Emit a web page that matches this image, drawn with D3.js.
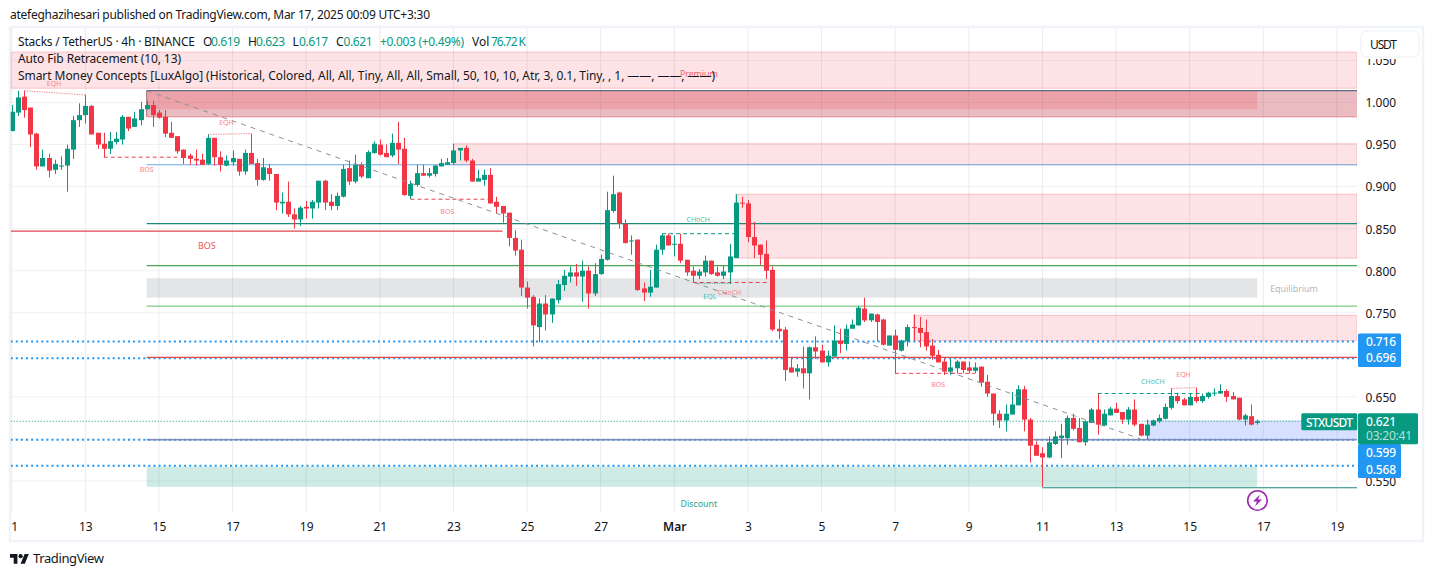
<!DOCTYPE html>
<html><head><meta charset="utf-8">
<style>html,body{margin:0;padding:0;background:#fff}svg{display:block}text{font-family:"Noto Sans",sans-serif}</style>
<script src="https://cdn.jsdelivr.net/npm/d3@7"></script></head><body><div id="c"></div>
<script>
// ---- candle data (price, USDT) ----
const opens=[.966,.988,1.007,.994,.963,.924,.934,.920,.924,.925,.944,.979,.985,.996,.964,.951,.945,.953,.956,.983,.971,.979,.992,.997,.988,.983,.964,.960,.944,.937,.933,.932,.927,.958,.935,.925,.929,.933,.918,.940,.928,.908,.922,.915,.880,.882,.867,.861,.876,.874,.881,.907,.882,.877,.888,.922,.906,.926,.910,.940,.950,.940,.937,.952,.945,.889,.902,.916,.913,.915,.924,.926,.928,.943,.946,.931,.906,.908,.914,.882,.877,.869,.839,.825,.780,.769,.733,.761,.748,.765,.783,.793,.798,.793,.800,.773,.796,.813,.871,.893,.856,.835,.837,.779,.774,.780,.825,.842,.831,.832,.813,.800,.794,.798,.812,.798,.794,.798,.815,.881,.880,.840,.831,.820,.801,.731,.730,.685,.680,.684,.678,.709,.705,.691,.698,.717,.713,.731,.735,.755,.741,.748,.742,.711,.723,.705,.716,.733,.732,.727,.711,.700,.692,.680,.684,.692,.685,.681,.686,.668,.654,.630,.622,.629,.640,.659,.623,.593,.583,.578,.594,.601,.601,.625,.613,.596,.619,.635,.616,.628,.636,.632,.623,.635,.618,.604,.616,.621,.624,.637,.651,.647,.640,.650,.645,.650,.654,.654,.657,.651,.649,.623,.627,.619];
const highs=[.997,1.014,1.014,.994,.964,.944,.939,.932,.936,.950,.984,.999,1.009,.997,.964,.964,.965,.965,.985,.983,.989,1.001,1.002,1.002,.991,.991,.977,.960,.944,.939,.944,.939,.962,.958,.942,.937,.943,.933,.944,.963,.933,.934,.927,.915,.893,.906,.874,.877,.883,.884,.907,.908,.891,.893,.926,.931,.938,.929,.943,.954,.956,.950,.963,.977,.958,.907,.926,.926,.922,.926,.933,.934,.951,.946,.949,.933,.920,.920,.922,.888,.877,.869,.848,.837,.787,.771,.767,.771,.767,.789,.801,.805,.808,.812,.805,.809,.819,.894,.913,.894,.861,.842,.837,.786,.801,.831,.844,.844,.842,.844,.813,.805,.802,.818,.812,.805,.806,.832,.891,.888,.884,.858,.831,.836,.805,.742,.733,.697,.689,.710,.710,.722,.712,.705,.735,.731,.736,.742,.758,.768,.749,.749,.743,.723,.730,.718,.736,.748,.745,.742,.719,.706,.695,.695,.694,.692,.692,.691,.686,.676,.654,.634,.641,.656,.664,.663,.625,.597,.590,.603,.609,.618,.628,.630,.625,.622,.637,.654,.635,.638,.643,.632,.638,.647,.618,.623,.623,.629,.642,.660,.655,.649,.654,.661,.654,.656,.660,.665,.659,.656,.649,.630,.641,.623];
const lows=[.966,.984,.982,.947,.920,.924,.911,.915,.920,.894,.933,.971,.975,.962,.945,.935,.939,.950,.950,.966,.971,.973,.992,.971,.981,.959,.958,.939,.927,.926,.925,.926,.926,.925,.918,.924,.925,.913,.914,.927,.901,.907,.907,.872,.868,.864,.850,.853,.862,.862,.874,.872,.872,.872,.887,.902,.904,.910,.910,.939,.937,.935,.935,.927,.889,.885,.900,.913,.911,.912,.924,.926,.926,.931,.929,.906,.906,.901,.880,.868,.857,.829,.818,.770,.755,.710,.715,.729,.738,.761,.776,.786,.782,.763,.755,.770,.795,.812,.869,.850,.832,.819,.776,.764,.769,.780,.819,.830,.817,.809,.794,.786,.790,.793,.795,.793,.790,.784,.815,.875,.834,.815,.807,.790,.728,.719,.669,.679,.674,.660,.647,.695,.691,.686,.698,.702,.705,.731,.735,.739,.739,.716,.711,.711,.678,.704,.710,.717,.709,.705,.694,.691,.676,.676,.678,.678,.678,.678,.662,.650,.616,.613,.609,.629,.640,.609,.572,.580,.543,.577,.593,.577,.593,.610,.596,.592,.619,.605,.616,.628,.631,.618,.617,.615,.603,.599,.615,.619,.623,.635,.642,.640,.640,.643,.643,.648,.651,.654,.644,.647,.622,.616,.616,.617];
const closes=[.989,1.006,.991,.962,.924,.934,.919,.927,.925,.945,.979,.985,.996,.962,.950,.945,.954,.957,.983,.969,.981,.992,.997,.985,.982,.963,.958,.942,.934,.933,.931,.926,.958,.935,.926,.931,.934,.918,.940,.927,.908,.923,.915,.881,.882,.867,.861,.875,.874,.882,.907,.881,.877,.889,.921,.906,.926,.912,.941,.951,.938,.935,.952,.944,.890,.903,.916,.913,.916,.925,.928,.929,.943,.946,.931,.906,.910,.914,.880,.876,.868,.839,.824,.780,.768,.735,.761,.748,.767,.784,.794,.798,.793,.800,.773,.796,.814,.872,.891,.856,.833,.836,.777,.774,.781,.825,.842,.830,.832,.812,.798,.794,.799,.812,.796,.794,.799,.817,.881,.880,.840,.830,.819,.800,.730,.728,.682,.679,.684,.678,.709,.704,.691,.699,.717,.713,.731,.736,.756,.741,.749,.739,.712,.723,.706,.717,.733,.732,.726,.710,.699,.691,.680,.685,.692,.682,.681,.685,.667,.654,.630,.622,.630,.641,.659,.623,.592,.580,.578,.596,.603,.604,.625,.612,.596,.621,.635,.617,.630,.636,.631,.623,.635,.617,.604,.617,.622,.625,.638,.651,.645,.640,.650,.645,.651,.655,.655,.657,.650,.647,.623,.628,.617,.621];

// ---- axes ----
const priceTicks=[1.05,1,.95,.9,.85,.8,.75,.65,.55];
const gridPrices=[1.05,1,.95,.9,.85,.8,.75,.7,.65,.6,.55];
const timeTickIndex=[0,12,24,36,48,60,72,84,96,108,120,132,144,156,168,180,192,204,216];
const timeTickLabels=["1","13","15","17","19","21","23","25","27","Mar","3","5","7","9","11","13","15","17","19"];

// ---- indicator zones: [fromIndex, toIndex (null = right edge), top price, bottom price] ----
const premiumZone=[null,null,1.060,1.017];
const supplyZoneOuter=[22,null,1.014,.983];
const supplyZoneInner=[22,203,1.014,.992];
const supplyZones=[[72,null,.951,.926],[118,null,.891,.815],[147,null,.747,.717]];
const equilibriumZone=[22,203,.791,.768];
const demandZone=[185,null,.622,.599];
const discountZone=[22,203,.567,.543];

// ---- level lines: [fromIndex, toIndex, price] ----
const tealLevels=[[22,null,.856],[168,null,.542]];
const redLevels=[[null,80,.847],[22,null,.697]];
const blueLevels=[[22,null,.926]];
const greenLevels=[[22,null,.806]];
const lightGreenLevels=[[22,null,.758]];
const slateLevels=[[22,null,.599]];
const dottedPrices=[.716,.696,.599,.568];
const lastPrice=.621;

// ---- market structure dashes: [i1,p1,i2,p2] ----
const fibTrend=[22,1.014,184,.600];
const bosDashes=[[15,.935,27,.935],[65,.885,78,.885],[111,.786,124,.786],[144,.678,157,.678]];
const chochDashes=[[106,.844,118,.844],[177,.654,194,.654]];
const eqhDots=[[2,1.014,12,1.009],[32,.962,39,.963],[189,.660,193,.661]];
const eqlDots=[[112,.785,117,.785]];

// ---- labels: [text, index, price] ----
const redSmall=[["EQH",6.9,1.022],["EQH",35,.976],["BOS",22,.920],["BOS",71,.870],["CHoCH",117,.773],["BOS",151,.664],["EQH",191,.676]];
const greenSmall=[["CHoCH",111.9,.860],["EQL",113.8,.769],["CHoCH",186,.667]];
const bigBos=["BOS",31.8,.829];
const premiumLabel=["Premium",112,1.033];
const equilibriumLabel=["Equilibrium",209,.778];
const discountLabel=["Discount",112,.522];
const tagPrices=[.716,.696,.599,.568];
const tagTextY=[341.5,358,452.5,470];

const W=1433,H=576;
const up="#089981",down="#f23645",left=10.7,right=1357;
const x=d3.scaleLinear().domain([0,216]).range([11.7,1336.9]);
const y=d3.scaleLinear().domain([1,.55]).range([102.5,481]);

const svg=d3.select("#c").append("svg").attr("width",W).attr("height",H);
// frame
svg.append("rect").attr("x",10).attr("y",27).attr("width",1413).attr("height",514).attr("fill","#fff").attr("stroke","#f0f3fa").attr("stroke-width",2.5);
svg.append("defs").append("clipPath").attr("id","pane").append("rect").attr("x",left).attr("y",28).attr("width",right-left).attr("height",485);
const g=svg.append("g").attr("clip-path","url(#pane)");

// grid
g.selectAll(".gh").data(gridPrices).join("line").attr("x1",left).attr("x2",right).attr("y1",d=>y(d)).attr("y2",d=>y(d)).attr("stroke","#f0f1f3");
g.selectAll(".gv").data(timeTickIndex).join("line").attr("x1",d=>x(d)).attr("x2",d=>x(d)).attr("y1",28).attr("y2",513).attr("stroke","#eaecef");

function zone(z,fill,op,stroke){
  const x0=z[0]==null?left:x(z[0]),x1=z[1]==null?right:x(z[1]);
  g.append("rect").attr("x",x0).attr("width",x1-x0).attr("y",y(z[2])).attr("height",y(z[3])-y(z[2])).attr("fill",fill).attr("fill-opacity",op).attr("stroke",stroke||"none").attr("stroke-opacity",.25);
}
zone(premiumZone,down,.14,down);
supplyZones.forEach(z=>zone(z,down,.14,down));
zone(supplyZoneOuter,"#c03040",.33);
zone(supplyZoneInner,down,.18);
zone(equilibriumZone,"#787b86",.2);
zone(demandZone,"#2962ff",.19);
zone(discountZone,up,.2);
// zone outlines of the big supply block
const sbx=x(supplyZoneOuter[0]);
g.append("line").attr("x1",sbx).attr("x2",sbx).attr("y1",y(supplyZoneOuter[2])).attr("y2",y(supplyZoneOuter[3])).attr("stroke","#a0707a");
g.append("line").attr("x1",sbx).attr("x2",right).attr("y1",y(supplyZoneOuter[3])).attr("y2",y(supplyZoneOuter[3])).attr("stroke","#e8868e");
g.append("line").attr("x1",sbx).attr("x2",right).attr("y1",y(supplyZoneOuter[2])).attr("y2",y(supplyZoneOuter[2])).attr("stroke","#5d6b80").attr("stroke-width",1.3);

// dotted levels and last price
g.selectAll(".dl").data(dottedPrices).join("line").attr("x1",left).attr("x2",right).attr("y1",d=>y(d)).attr("y2",d=>y(d)).attr("stroke","#2196f3").attr("stroke-width",2).attr("stroke-dasharray","2 3.1");
g.append("line").attr("x1",left).attr("x2",right).attr("y1",y(lastPrice)).attr("y2",y(lastPrice)).attr("stroke",up).attr("stroke-width",1).attr("stroke-dasharray","1 2");

function levels(arr,color,w){
  arr.forEach(l=>g.append("line").attr("x1",l[0]==null?left:x(l[0])).attr("x2",l[1]==null?right:x(l[1])).attr("y1",y(l[2])).attr("y2",y(l[2])).attr("stroke",color).attr("stroke-width",w||1.2));
}
levels(tealLevels,"#1b8a78");levels(redLevels,"#e0464f");levels(blueLevels,"#6aa9e0");levels(greenLevels,"#4fa552");levels(lightGreenLevels,"#7ecb85");levels(slateLevels,"#7d8db8",1.4);

// candles
const idx=d3.range(opens.length);
const col=i=>closes[i]>=opens[i]?up:down;
g.selectAll(".w").data(idx).join("line").attr("x1",i=>Math.round(x(i))+.5).attr("x2",i=>Math.round(x(i))+.5).attr("y1",i=>y(highs[i])).attr("y2",i=>y(lows[i])).attr("stroke",col).attr("stroke-width",1);
g.selectAll(".b").data(idx).join("rect").attr("x",i=>Math.round(x(i))-2).attr("width",5)
 .attr("y",i=>y(Math.max(opens[i],closes[i]))).attr("height",i=>Math.max(1,Math.abs(y(opens[i])-y(closes[i])))).attr("fill",col);

// structure
function seg(d,color,dash,w,op){
  g.append("line").attr("x1",x(d[0])).attr("y1",y(d[1])).attr("x2",x(d[2])).attr("y2",y(d[3])).attr("stroke",color).attr("stroke-width",w).attr("stroke-dasharray",dash).attr("opacity",op||1);
}
seg(fibTrend,"#8a8f98","5 5",1);
bosDashes.forEach(d=>seg(d,"#e8414d","4 3",1));
chochDashes.forEach(d=>seg(d,"#0a9a82","4 3",1));
eqhDots.forEach(d=>seg(d,down,"1.5 1",1,.55));
eqlDots.forEach(d=>seg(d,up,"1.5 1",1,.6));

function lbl(l,fill,size){
  g.append("text").attr("x",x(l[1])).attr("y",y(l[2])).attr("text-anchor","middle").attr("dominant-baseline","middle").attr("fill",fill).attr("font-size",size).text(l[0]);
}
redSmall.forEach(l=>lbl(l,"#f5838c",7));
greenSmall.forEach(l=>lbl(l,"#4fbca9",7));
lbl(bigBos,"#f0535f",9);
lbl(premiumLabel,"#f0606b",8.8);
lbl(equilibriumLabel,"#b2b5bc",8.8);
lbl(discountLabel,"#25a58d",8.8);

// price axis
const ya=svg.append("g").attr("transform",`translate(${right+8.5},0.5)`).call(d3.axisRight(y).tickValues(priceTicks).tickFormat(d3.format(".3f")).tickSize(0).tickPadding(0));
ya.select(".domain").remove();
ya.selectAll("text").attr("font-size",12).attr("fill","#131722").attr("font-family","Noto Sans");
// time axis
const labelOf=new Map(timeTickIndex.map((t,i)=>[t,timeTickLabels[i]]));
const xa=svg.append("g").attr("transform","translate(0,522.5)").call(d3.axisBottom(x).tickValues(timeTickIndex).tickFormat(d=>labelOf.get(d)).tickSize(0).tickPadding(0));
xa.select(".domain").remove();
xa.selectAll("text").attr("font-size",12).attr("fill","#131722").attr("font-family","Noto Sans");
xa.select(".tick text").attr("dx",2.5);
xa.selectAll("text").filter(function(){return this.textContent==="Mar"}).attr("font-weight",600);

function T(px,py,s,o){o=o||{};const t=svg.append("text").attr("x",px).attr("y",py).attr("fill",o.fill||"#131722").attr("font-size",o.size||12).attr("text-anchor",o.anchor||"start").text(s);
 if(o.len){t.attr("textLength",o.len).attr("lengthAdjust","spacing");}if(o.op)t.attr("opacity",o.op);if(o.weight)t.attr("font-weight",o.weight);return t;}

// header & legend
T(10,19,"atefeghazihesari published on TradingView.com, Mar 17, 2025 00:09 UTC+3:30",{len:420});
T(18,46,"Stacks / TetherUS · 4h · BINANCE",{len:177});
[["O",203,"0.619",211],["H",248,"0.623",256],["L",292.5,"0.617",299],["C",336,"0.621",343.5]].forEach(a=>{T(a[1],46,a[0]);T(a[3],46,a[2],{fill:up,len:29});});
T(380,46,"+0.003 (+0.49%)",{fill:up,len:84});
T(472,46,"Vol");T(491,46,"76.72 K",{fill:up,len:35});
T(18,63,"Auto Fib Retracement (10, 13)",{len:163});
T(18,80,"Smart Money Concepts [LuxAlgo] (Historical, Colored, All, All, Tiny, All, All, Small, 50, 10, 10, Atr, 3, 0.1, Tiny, , 1, ——, ——, ——)",{len:697});

// USDT button (covers the top of the 1.050 tick label)
svg.append("rect").attr("x",1359).attr("y",28).attr("width",62).attr("height",31).attr("fill","#fff");
svg.append("rect").attr("x",1361).attr("y",31).attr("width",58).attr("height",26).attr("rx",5).attr("fill","#fff").attr("stroke","#f0f1f3").attr("stroke-width",1.2);
T(1370,49,"USDT",{len:27});

// price tags
function tag(x0,y0,w,h,fill){svg.append("rect").attr("x",x0).attr("y",y0).attr("width",w).attr("height",h).attr("fill",fill).attr("rx",1.5);}
tag(1358,333.5,43,33.5,"#2196f3");tag(1358,444,43,34,"#2196f3");
tag(1358,413.3,60,31,up);tag(1301.3,413.3,56,17,up);
tagPrices.forEach((p,i)=>T(1366,tagTextY[i]+4.4,d3.format(".3f")(p),{fill:"#fff",weight:500,len:30}));
T(1306,426.5,"STXUSDT",{fill:"#fff",weight:500,len:47});
T(1366,426,"0.621",{fill:"#fff",weight:500,len:30});
T(1366,440,"03:20:41",{fill:"#b6e2d9",len:46});

// lightning marker
const lg=svg.append("g").attr("transform","translate(1257.5,500.5)");
lg.append("circle").attr("r",9.8).attr("fill","#fff").attr("stroke","#9c27b0").attr("stroke-width",1.6);
lg.append("path").attr("d","M2.5,-6 L-4.5,1 L-0.5,1 L-2.5,6 L4.5,-1 L0.5,-1 Z").attr("fill","#9c27b0");

// TradingView logo
const lo=svg.append("g").attr("transform","translate(10,552) scale(.53)").attr("fill","#131722");
lo.append("path").attr("d","M14 22H7V11H0V4h14v18zM28 22h-8l7.5-18h8L28 22z");
lo.append("circle").attr("cx",20).attr("cy",8).attr("r",4);
T(33,563,"TradingView",{size:13,len:71});
</script></body></html>
